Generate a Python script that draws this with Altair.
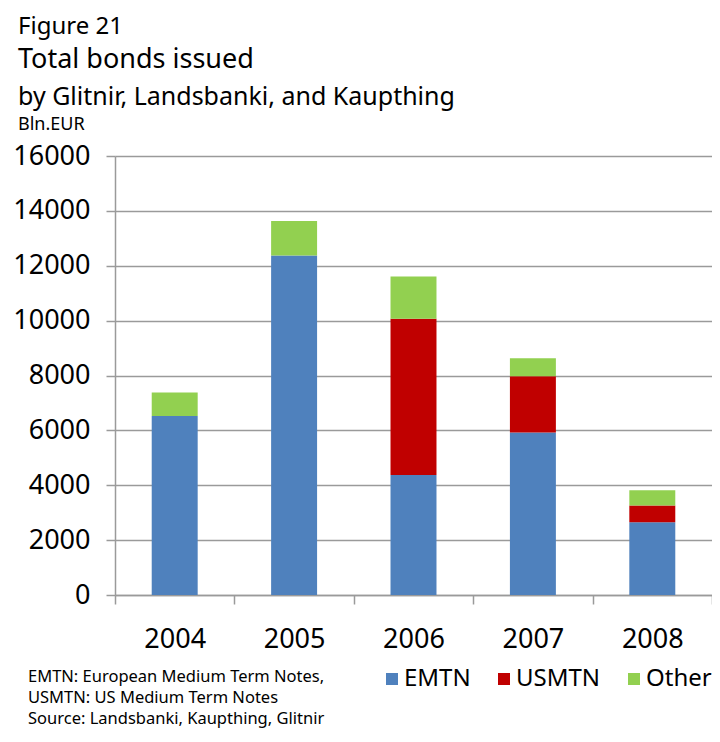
import altair as alt
import pandas as pd

years = ["2004", "2005", "2006", "2007", "2008"]
series = ["EMTN", "USMTN", "Other"]
emtn = [6520, 12370, 4370, 5920, 2650]
usmtn = [0, 0, 5700, 2050, 610]
other = [860, 1260, 1540, 660, 560]
colors = ["#4F81BD", "#C00000", "#92D050"]

title_lines = ["Figure 21", "Total bonds issued", "by Glitnir, Landsbanki, and Kaupthing"]
unit_label = "Bln.EUR"
notes = ["EMTN: European Medium Term Notes,", "USMTN: US Medium Term Notes",
         "Source: Landsbanki, Kaupthing, Glitnir"]

rows = []
for i, y in enumerate(years):
    for k, (s, vals) in enumerate(zip(series, [emtn, usmtn, other])):
        rows.append({"Year": y, "Series": s, "Value": vals[i], "order": k})
df = pd.DataFrame(rows)

FONT = "Noto Sans"

bars = alt.Chart(df).mark_bar(width=alt.RelativeBandSize(0.385)).encode(
    x=alt.X("Year:N", sort=years, title=None,
            scale=alt.Scale(paddingInner=0, paddingOuter=0),
            axis=alt.Axis(labelAngle=0, labelFontSize=27, labelFont=FONT, labelColor="#000000",
                          tickBand="extent", tickSize=9, tickColor="#9a9a9a", tickWidth=1.5,
                          domainColor="#9a9a9a", domainWidth=1.5, labelPadding=22, grid=False)),
    y=alt.Y("Value:Q", stack="zero", title=None,
            scale=alt.Scale(domain=[0, 16000], nice=False),
            axis=alt.Axis(values=list(range(0, 16001, 2000)), format="d", labelFontSize=27,
                          labelFont=FONT, labelColor="#000000", tickSize=9, tickColor="#9a9a9a",
                          tickWidth=1.5, domainColor="#9a9a9a", domainWidth=1.5, labelPadding=16,
                          gridColor="#9a9a9a", gridWidth=1.5)),
    color=alt.Color("Series:N", sort=series,
                    scale=alt.Scale(domain=series, range=colors),
                    legend=alt.Legend(title=None, orient="none", legendX=265, legendY=511,
                                      direction="horizontal", columns=3, symbolType="square",
                                      symbolSize=144, symbolStrokeWidth=0, labelFontSize=24,
                                      labelFont=FONT, labelColor="#000000", labelOffset=0,
                                      columnPadding=21, padding=0)),
    order=alt.Order("order:Q"),
)

def text_layer(txt, x, y, size):
    return alt.Chart(pd.DataFrame({"t": [txt]})).mark_text(
        align="left", baseline="alphabetic", font=FONT, fontSize=size, color="#000000"
    ).encode(x=alt.value(x), y=alt.value(y), text="t:N")

layers = [bars,
          text_layer(title_lines[0], -97, -122, 24),
          text_layer(title_lines[1], -97, -88, 27),
          text_layer(title_lines[2], -97, -51, 25),
          text_layer(unit_label, -97, -26, 18),
          text_layer(notes[0], -87, 526, 16.5),
          text_layer(notes[1], -87, 547, 16.5),
          text_layer(notes[2], -87, 568, 16.5)]

chart = alt.layer(*layers).properties(
    width=597, height=439,
    padding={"left": 107, "top": 148, "right": 0, "bottom": 139},
    autosize=alt.AutoSizeParams(type="none"),
).configure_view(stroke=None)

chart.save("out.html", embed_options={"renderer": "svg", "actions": False})
